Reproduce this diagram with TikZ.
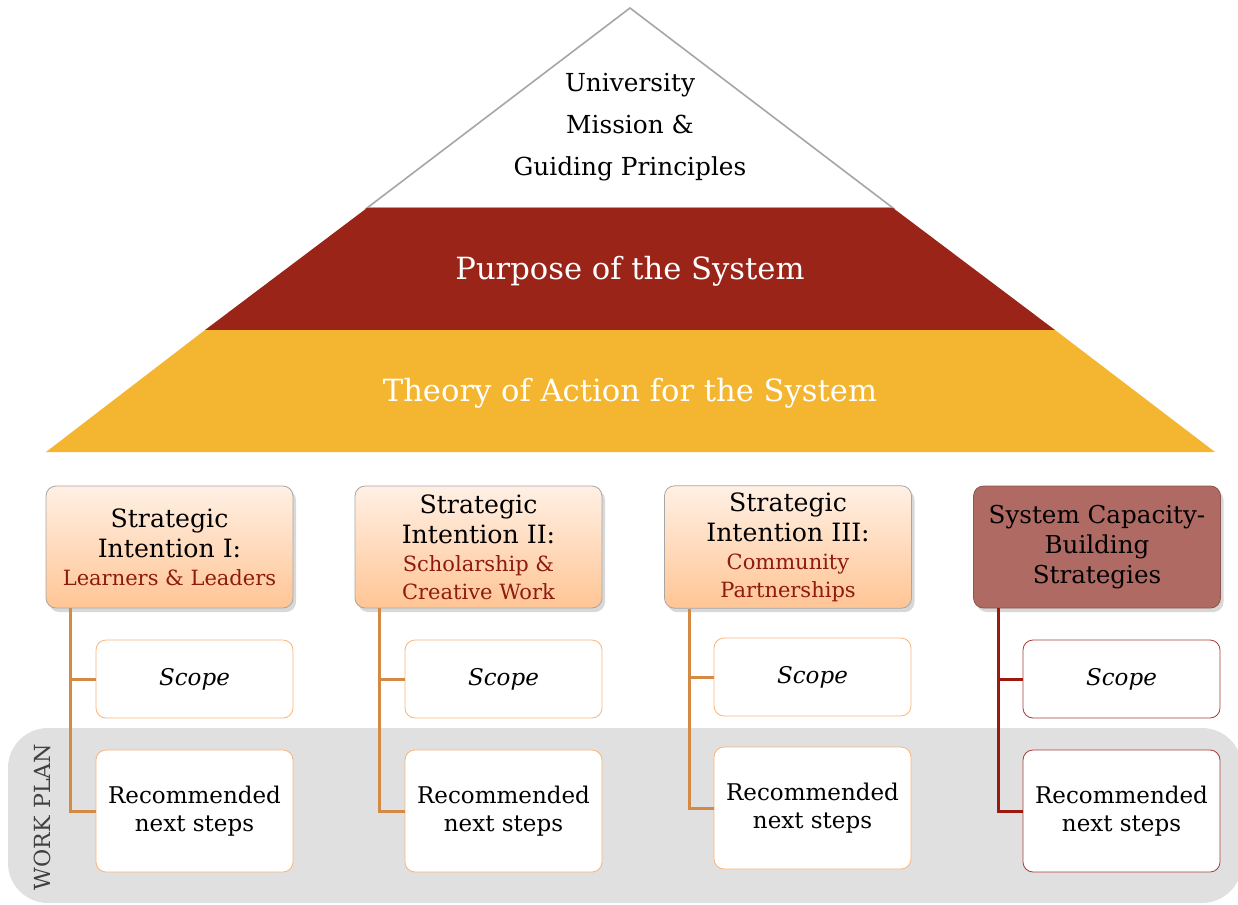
\documentclass[tikz,border=0pt]{standalone}
\usepackage{fontspec}
\setmainfont{DejaVu Serif}
\usetikzlibrary{shadows,positioning}
\definecolor{pyrred}{HTML}{9A2418}
\definecolor{pyryellow}{HTML}{F4B530}
\definecolor{subred}{HTML}{8E1A10}
\definecolor{peachtop}{HTML}{FFF0E4}
\definecolor{peachbot}{HTML}{FFC595}
\definecolor{capred}{HTML}{B06A64}
\definecolor{orangeline}{HTML}{D48A45}
\definecolor{orangeedge}{HTML}{F9B57A}
\definecolor{darkline}{HTML}{9A1A10}
\definecolor{bandgray}{HTML}{E0E0E0}
\newcommand{\subtxt}[1]{{\color{subred}\fontsize{10.5}{13}\selectfont #1}}

\begin{document}
\begin{tikzpicture}[x=0.5pt,y=-0.5pt,
  head/.style={draw=gray!70,rounded corners=5pt,minimum width=123.5pt,minimum height=61pt,
    align=center,font=\fontsize{12.6}{15}\selectfont,top color=peachtop,bottom color=peachbot,
    drop shadow={shadow xshift=1.5pt,shadow yshift=-2pt,fill=black!30}},
  part/.style={draw=orangeedge,fill=white,rounded corners=5pt,minimum width=98.5pt,
    align=center,font=\fontsize{11.5}{14}\selectfont},
  conn/.style={orangeline,line width=1.5pt}]
  \useasboundingbox (0,0) rectangle (1238,905);

  % work plan band
  \fill[bandgray,rounded corners=20pt] (8,728) rectangle (1242,903);
  \node[rotate=90,text=black!75,font=\fontsize{11.1}{13}\selectfont] (wp) at (42,817) {WORK PLAN};

  % pyramid
  \filldraw[fill=white,draw=gray!70,line width=0.8pt] (630,8) -- (893,208) -- (367,208) -- cycle;
  \fill[pyrred] (367,208) -- (893,208) -- (1055,330) -- (205,330) -- cycle;
  \fill[pyryellow] (205,330) -- (1055,330) -- (1215,452) -- (46,452) -- cycle;
  \node[align=center,font=\fontsize{12.4}{21}\selectfont] (mission) at (630,127)
    {University\\Mission \&\\Guiding Principles};
  \node[white,font=\fontsize{15.3}{18}\selectfont] (purpose) at (630,271) {Purpose of the System};
  \node[white,font=\fontsize{15.3}{18}\selectfont] (theory) at (630,393) {Theory of Action for the System};

  % strategic intentions
  \node[head] (h1) at (169.5,547) {Strategic\\Intention I:\\[-1pt]\subtxt{Learners \& Leaders}};
  \node[head] (h2) at (478.5,547) {Strategic\\Intention II:\\[-1pt]\subtxt{Scholarship \&}\\[-1pt]\subtxt{Creative Work}};
  \node[head] (h3) at (788,547) {Strategic\\Intention III:\\[-1pt]\subtxt{Community}\\[-1pt]\subtxt{Partnerships}};
  \node[head,top color=capred,bottom color=capred,draw=capred!80!black,font=\fontsize{12.3}{15}\selectfont] (h4) at (1097,547)
    {System Capacity-\\Building\\Strategies};

  % scope and next steps
  \node[part,minimum height=39pt] (s1) at (194.5,679) {\itshape Scope};
  \node[part,minimum height=61pt] (r1) at (194.5,811) {Recommended\\next steps};
  \node[part,minimum height=39pt] (s2) at (503.5,679) {\itshape Scope};
  \node[part,minimum height=61pt] (r2) at (503.5,811) {Recommended\\next steps};
  \node[part,minimum height=39pt] (s3) at (812.5,677) {\itshape Scope};
  \node[part,minimum height=61pt] (r3) at (812.5,808) {Recommended\\next steps};
  \node[part,draw=darkline!85,minimum height=39pt] (s4) at (1121.5,679) {\itshape Scope};
  \node[part,draw=darkline!85,minimum height=61pt] (r4) at (1121.5,811) {Recommended\\next steps};

  \draw[conn] ([xshift=12.5pt]h1.south west) |- (s1.west);
  \draw[conn] ([xshift=12.5pt]h1.south west) |- (r1.west);
  \draw[conn] ([xshift=12.5pt]h2.south west) |- (s2.west);
  \draw[conn] ([xshift=12.5pt]h2.south west) |- (r2.west);
  \draw[conn] ([xshift=12.5pt]h3.south west) |- (s3.west);
  \draw[conn] ([xshift=12.5pt]h3.south west) |- (r3.west);
  \draw[conn,darkline] ([xshift=12.5pt]h4.south west) |- (s4.west);
  \draw[conn,darkline] ([xshift=12.5pt]h4.south west) |- (r4.west);
\end{tikzpicture}
\end{document}
